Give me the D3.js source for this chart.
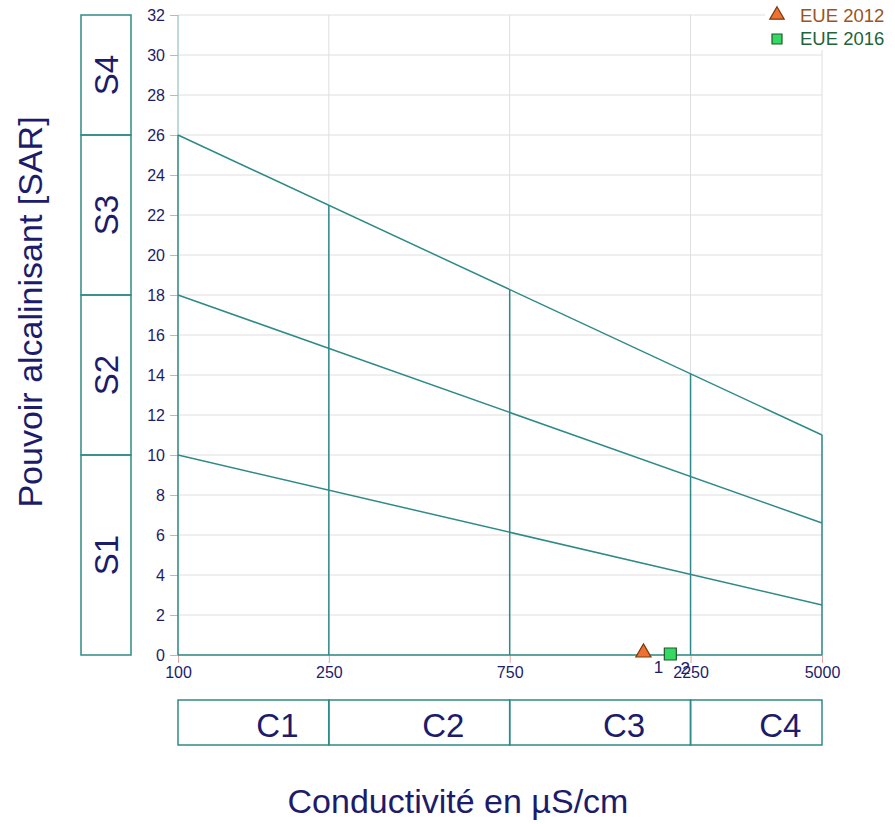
<!DOCTYPE html>
<html>
<head>
<meta charset="utf-8">
<script src="https://cdn.jsdelivr.net/npm/d3@7"></script>
<style>
body { margin: 0; background: #fff; }
text { font-family: "Liberation Sans", Arial, sans-serif; }
</style>
</head>
<body>
<div id="chart"></div>
<script>
// conductivity ticks (log scale) and SAR ticks
var condTicks = [100, 250, 750, 2250, 5000];
var sarTicks = [0, 2, 4, 6, 8, 10, 12, 14, 16, 18, 20, 22, 24, 26, 28, 30, 32];

// class boundary lines: SAR value at 100 and at 5000 µS/cm
var lineLow = [[100, 10], [5000, 2.5]];
var lineMid = [[100, 18], [5000, 6.6]];
var lineHigh = [[100, 26], [5000, 11]];

var sClasses = ['S1', 'S2', 'S3', 'S4'];
var sLimits = [0, 10, 18, 26, 32];
var cClasses = ['C1', 'C2', 'C3', 'C4'];
var cLimits = [100, 250, 750, 2250, 5000];

// samples
var sampleNames = ['EUE 2012', 'EUE 2016'];
var sampleCond = [1690, 1990];
var sampleSar = [0.12, 0.05];

var w = 895, h = 824;
var pLeft = 178, pRight = 822, pTop = 15, pBottom = 655;
var teal = '#2f8a87';
var navy = '#1c1c6b';

var svg = d3.select('#chart').append('svg')
    .attr('width', w)
    .attr('height', h);

var x = d3.scaleLog().domain([100, 5000]).range([pLeft, pRight]);
var y = d3.scaleLinear().domain([0, 32]).range([pBottom, pTop]);

// grid
svg.append('g').selectAll('line')
    .data(sarTicks)
    .enter().append('line')
    .attr('x1', pLeft).attr('x2', pRight)
    .attr('y1', function(d) { return y(d); })
    .attr('y2', function(d) { return y(d); })
    .attr('stroke', '#dedede');
svg.append('g').selectAll('line')
    .data(condTicks)
    .enter().append('line')
    .attr('x1', function(d) { return x(d); })
    .attr('x2', function(d) { return x(d); })
    .attr('y1', pTop).attr('y2', pBottom)
    .attr('stroke', '#dedede');

// axis ticks
var yAxis = d3.axisLeft(y).tickValues(sarTicks).tickSize(8).tickPadding(5);
var gy = svg.append('g').attr('transform', 'translate(' + pLeft + ',0)').call(yAxis);
var xAxis = d3.axisBottom(x).tickValues(condTicks).tickSize(8).tickPadding(4)
    .tickFormat(d3.format('d'));
var gx = svg.append('g').attr('transform', 'translate(0,' + pBottom + ')').call(xAxis);
[gx, gy].forEach(function(g) {
    g.select('.domain').remove();
    g.selectAll('.tick line').attr('stroke', '#e0a8a8');
    g.selectAll('.tick text').attr('fill', navy)
        .style('font-family', '"Liberation Sans", Arial, sans-serif')
        .style('font-size', '16px');
});

// left axis line (thin above S4 limit)
svg.append('line')
    .attr('x1', x(100)).attr('x2', x(100))
    .attr('y1', y(32)).attr('y2', y(26))
    .attr('stroke', '#8cc4c2').attr('stroke-width', 1);

// class lines
var lineGen = d3.line()
    .x(function(d) { return x(d[0]); })
    .y(function(d) { return y(d[1]); });
[lineLow, lineMid, lineHigh].forEach(function(l) {
    svg.append('path')
        .attr('d', lineGen(l))
        .attr('fill', 'none')
        .attr('stroke', teal)
        .attr('stroke-width', 1.5);
});

function highAt(c) {
    var t = (Math.log10(c) - 2) / (Math.log10(5000) - 2);
    return lineHigh[0][1] + t * (lineHigh[1][1] - lineHigh[0][1]);
}

// vertical class limits up to top line
svg.append('g').selectAll('line')
    .data(cLimits)
    .enter().append('line')
    .attr('x1', function(d) { return x(d); })
    .attr('x2', function(d) { return x(d); })
    .attr('y1', y(0))
    .attr('y2', function(d) { return y(highAt(d)); })
    .attr('stroke', teal)
    .attr('stroke-width', 1.5);

// bottom axis line
svg.append('line')
    .attr('x1', pLeft).attr('x2', pRight)
    .attr('y1', y(0)).attr('y2', y(0))
    .attr('stroke', teal).attr('stroke-width', 1.5);

// S class boxes
var sBox = svg.append('g');
for (var i = 0; i < sClasses.length; ++i) {
    var y0 = y(sLimits[i + 1]), y1 = y(sLimits[i]);
    sBox.append('rect')
        .attr('x', 81).attr('width', 50)
        .attr('y', y0).attr('height', y1 - y0)
        .attr('fill', 'none').attr('stroke', teal).attr('stroke-width', 1.5);
    sBox.append('text')
        .attr('transform', 'translate(118,' + ((y0 + y1) / 2) + ') rotate(-90)')
        .attr('text-anchor', 'middle')
        .attr('fill', navy)
        .style('font-size', '33px')
        .text(sClasses[i]);
}

// C class boxes
var cBox = svg.append('g');
for (var i = 0; i < cClasses.length; ++i) {
    var x0 = x(cLimits[i]), x1 = x(cLimits[i + 1]);
    cBox.append('rect')
        .attr('x', x0).attr('width', x1 - x0)
        .attr('y', 700).attr('height', 45)
        .attr('fill', 'none').attr('stroke', teal).attr('stroke-width', 1.5);
    cBox.append('text')
        .attr('x', (x0 + x1) / 2 + 24)
        .attr('y', 737)
        .attr('text-anchor', 'middle')
        .attr('fill', navy)
        .style('font-size', '33px')
        .text(cClasses[i]);
}

// samples
var sym = [d3.symbolTriangle, d3.symbolSquare];
var symFill = ['#f07030', '#35d863'];
var symStroke = ['#7a3a10', '#1d5a2a'];
var symSize = [100, 144];
for (var i = 0; i < sampleNames.length; ++i) {
    svg.append('path')
        .attr('d', d3.symbol().type(sym[i]).size(symSize[i])())
        .attr('transform', 'translate(' + x(sampleCond[i]) + ',' + y(sampleSar[i]) + ')')
        .attr('fill', symFill[i])
        .attr('stroke', symStroke[i])
        .attr('stroke-width', 1.2);
    svg.append('text')
        .attr('x', x(sampleCond[i]) + 15)
        .attr('y', y(sampleSar[i]) + 20)
        .attr('text-anchor', 'middle')
        .attr('fill', navy)
        .style('font-size', '17px')
        .text(i + 1);
}

// legend
var legText = ['#9a5424', '#23633a'];
var legSize = [90, 100];
var leg = svg.append('g');
leg.append('rect').attr('x', 765).attr('y', 0).attr('width', 130).attr('height', 50).attr('fill', '#fff');
for (var i = 0; i < sampleNames.length; ++i) {
    leg.append('path')
        .attr('d', d3.symbol().type(sym[i]).size(legSize[i])())
        .attr('transform', 'translate(777,' + (15 + i * 24) + ')')
        .attr('fill', symFill[i])
        .attr('stroke', symStroke[i])
        .attr('stroke-width', 1.2);
    leg.append('text')
        .attr('x', 800)
        .attr('y', 22 + i * 23)
        .attr('fill', legText[i])
        .style('font-size', '18.5px')
        .text(sampleNames[i]);
}

// axis titles
svg.append('text')
    .attr('transform', 'translate(42,312) rotate(-90)')
    .attr('text-anchor', 'middle')
    .attr('fill', navy)
    .style('font-size', '34px')
    .text('Pouvoir alcalinisant [SAR]');
svg.append('text')
    .attr('x', 458)
    .attr('y', 813)
    .attr('text-anchor', 'middle')
    .attr('fill', navy)
    .style('font-size', '34px')
    .text('Conductivité en µS/cm');
</script>
</body>
</html>
